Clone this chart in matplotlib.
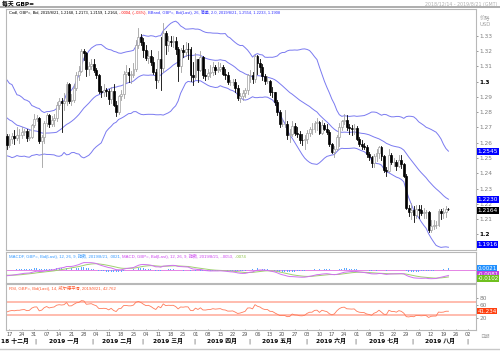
import numpy as np
import pandas as pd
import matplotlib
matplotlib.use("Agg")
import matplotlib.pyplot as plt
from matplotlib.patches import Rectangle
from matplotlib.transforms import blended_transform_factory

plt.rcParams['font.family'] = ['DejaVu Sans', 'Noto Sans CJK SC']

# =========================
# Data : GBP= daily (Bid)
# =========================

# closes before the visible window (2018-10-01 .. 2018-12-13), used for indicator warm-up
warmup_close = [
    1.3030, 1.2970, 1.2995, 1.3035, 1.3120,
    1.3080, 1.3130, 1.3190, 1.3225, 1.3150,
    1.3170, 1.3170, 1.3110, 1.3030, 1.3050,
    1.2975, 1.2970, 1.2910, 1.2810, 1.2820,
    1.2790, 1.2720, 1.2770, 1.3003, 1.2971,
    1.3040, 1.3093, 1.3142, 1.3046, 1.2970,
    1.2844, 1.2993, 1.2972, 1.2772, 1.2830,
    1.2850, 1.2760, 1.2793, 1.2886, 1.2808,
    1.2815, 1.2735, 1.2812, 1.2790, 1.2740,
    1.2720, 1.2715, 1.2737, 1.2780, 1.2575,
    1.2560, 1.2490, 1.2642, 1.2645,
]

# visible window 2018-12-14 .. 2019-08-21 (one line per week)
opens = [
    1.2645,
    1.2585, 1.2625, 1.2645, 1.2630, 1.2650,
    1.2650, 1.2668, 1.2675, 1.2630, 1.2640,
    1.2715, 1.2755, 1.2760, 1.2610, 1.2635,
    1.2730, 1.2780, 1.2725, 1.2750, 1.2765,
    1.2845, 1.2870, 1.2860, 1.2875, 1.2985,
    1.2875, 1.2880, 1.2960, 1.3045, 1.3070,
    1.3200, 1.3190, 1.3080, 1.3100, 1.3115,
    1.3075, 1.3045, 1.2940, 1.2935, 1.2945,
    1.2937, 1.2885, 1.2940, 1.2850, 1.2800,
    1.2905, 1.2920, 1.3050, 1.3060, 1.3045,
    1.3045, 1.3080, 1.3240, 1.3290, 1.3260,
    1.3205, 1.3155, 1.3170, 1.3130, 1.3065,
    1.3010, 1.3145, 1.3090, 1.3320, 1.3240,
    1.3265, 1.3260, 1.3265, 1.3215, 1.3105,
    1.3205, 1.3195, 1.3215, 1.3210, 1.3040,
    1.3030, 1.3145, 1.3075, 1.3160, 1.3040,
    1.3035, 1.3055, 1.3060, 1.3095, 1.3075,
    1.3085, 1.3095, 1.3050, 1.3040, 1.2995,
    1.2995, 1.3000, 1.2955, 1.2895, 1.2905,
    1.2925, 1.2945, 1.3040, 1.3045, 1.3015,
    1.3170, 1.3120, 1.3095, 1.3035, 1.3005,
    1.3005, 1.2935, 1.2930, 1.2865, 1.2800,
    1.2720, 1.2720, 1.2720, 1.2650, 1.2655,
    1.2710, 1.2665, 1.2655, 1.2620, 1.2615,
    1.2625, 1.2665, 1.2690, 1.2690, 1.2730,
    1.2735, 1.2665, 1.2715, 1.2690, 1.2670,
    1.2590, 1.2540, 1.2560, 1.2635, 1.2700,
    1.2740, 1.2750, 1.2700, 1.2695, 1.2690,
    1.2695, 1.2625, 1.2590, 1.2580, 1.2575,
    1.2525, 1.2505, 1.2470, 1.2510, 1.2530,
    1.2575, 1.2510, 1.2420, 1.2415, 1.2520,
    1.2475, 1.2475, 1.2445, 1.2485, 1.2460,
    1.2385, 1.2170, 1.2145, 1.2160, 1.2130,
    1.2165, 1.2160, 1.2140, 1.2145, 1.2145,
    1.2030, 1.2055, 1.2060, 1.2060, 1.2150,
    1.2140, 1.2145, 1.2168,
]
highs = [
    1.2655,
    1.2660, 1.2665, 1.2680, 1.2705, 1.2690,
    1.2700, 1.2690, 1.2690, 1.2680, 1.2720,
    1.2790, 1.2780, 1.2770, 1.2650, 1.2740,
    1.2795, 1.2790, 1.2775, 1.2790, 1.2865,
    1.2895, 1.2895, 1.2925, 1.3000, 1.2990,
    1.2920, 1.2985, 1.3060, 1.3105, 1.3216,
    1.3215, 1.3195, 1.3125, 1.3145, 1.3150,
    1.3090, 1.3050, 1.2970, 1.2985, 1.2960,
    1.2950, 1.2965, 1.2985, 1.2870, 1.2915,
    1.2945, 1.3070, 1.3110, 1.3090, 1.3070,
    1.3120, 1.3270, 1.3350, 1.3310, 1.3285,
    1.3240, 1.3200, 1.3205, 1.3160, 1.3085,
    1.3200, 1.3290, 1.3381, 1.3330, 1.3300,
    1.3300, 1.3300, 1.3290, 1.3225, 1.3220,
    1.3240, 1.3260, 1.3255, 1.3225, 1.3125,
    1.3185, 1.3150, 1.3200, 1.3165, 1.3085,
    1.3080, 1.3110, 1.3125, 1.3110, 1.3130,
    1.3120, 1.3110, 1.3085, 1.3060, 1.3010,
    1.3020, 1.3015, 1.2975, 1.2925, 1.2945,
    1.2960, 1.3050, 1.3075, 1.3065, 1.3176,
    1.3175, 1.3150, 1.3115, 1.3050, 1.3035,
    1.3010, 1.2965, 1.2935, 1.2880, 1.2815,
    1.2755, 1.2815, 1.2740, 1.2690, 1.2745,
    1.2730, 1.2700, 1.2675, 1.2655, 1.2650,
    1.2680, 1.2700, 1.2730, 1.2740, 1.2763,
    1.2745, 1.2750, 1.2730, 1.2720, 1.2685,
    1.2600, 1.2580, 1.2650, 1.2730, 1.2750,
    1.2785, 1.2784, 1.2725, 1.2715, 1.2720,
    1.2710, 1.2640, 1.2620, 1.2600, 1.2585,
    1.2540, 1.2515, 1.2525, 1.2560, 1.2580,
    1.2580, 1.2520, 1.2440, 1.2560, 1.2535,
    1.2500, 1.2485, 1.2520, 1.2520, 1.2470,
    1.2395, 1.2190, 1.2205, 1.2185, 1.2190,
    1.2190, 1.2190, 1.2175, 1.2160, 1.2150,
    1.2095, 1.2095, 1.2085, 1.2165, 1.2165,
    1.2175, 1.2185, 1.2173,
]
lows = [
    1.2560,
    1.2570, 1.2600, 1.2590, 1.2615, 1.2600,
    1.2630, 1.2650, 1.2610, 1.2615, 1.2630,
    1.2700, 1.2740, 1.2600, 1.2438, 1.2600,
    1.2710, 1.2700, 1.2710, 1.2710, 1.2740,
    1.2820, 1.2670, 1.2815, 1.2845, 1.2860,
    1.2850, 1.2865, 1.2945, 1.3010, 1.3060,
    1.3140, 1.3035, 1.3040, 1.3080, 1.3060,
    1.3025, 1.2925, 1.2900, 1.2905, 1.2905,
    1.2855, 1.2860, 1.2840, 1.2773, 1.2790,
    1.2880, 1.2895, 1.3000, 1.3000, 1.2990,
    1.3030, 1.3070, 1.3220, 1.3240, 1.3160,
    1.3140, 1.3120, 1.3110, 1.3050, 1.2960,
    1.2995, 1.2945, 1.3060, 1.3180, 1.3200,
    1.3235, 1.3225, 1.3180, 1.3005, 1.3060,
    1.3160, 1.3170, 1.3150, 1.3005, 1.2975,
    1.3020, 1.3000, 1.3070, 1.3025, 1.3010,
    1.3015, 1.3030, 1.3045, 1.3050, 1.3060,
    1.3070, 1.3040, 1.3020, 1.2985, 1.2975,
    1.2975, 1.2935, 1.2880, 1.2865, 1.2880,
    1.2900, 1.2920, 1.3000, 1.2990, 1.3000,
    1.3050, 1.3060, 1.3010, 1.2985, 1.2990,
    1.2915, 1.2900, 1.2850, 1.2780, 1.2705,
    1.2710, 1.2700, 1.2625, 1.2605, 1.2645,
    1.2650, 1.2640, 1.2600, 1.2585, 1.2560,
    1.2600, 1.2645, 1.2660, 1.2670, 1.2680,
    1.2660, 1.2660, 1.2680, 1.2655, 1.2580,
    1.2530, 1.2505, 1.2550, 1.2580, 1.2680,
    1.2720, 1.2680, 1.2660, 1.2650, 1.2660,
    1.2615, 1.2580, 1.2560, 1.2560, 1.2505,
    1.2490, 1.2440, 1.2440, 1.2480, 1.2500,
    1.2490, 1.2410, 1.2380, 1.2410, 1.2460,
    1.2450, 1.2420, 1.2440, 1.2435, 1.2375,
    1.2165, 1.2120, 1.2100, 1.2080, 1.2110,
    1.2110, 1.2125, 1.2110, 1.2110, 1.2015,
    1.2015, 1.2035, 1.2040, 1.2055, 1.2100,
    1.2110, 1.2115, 1.2159,
]
closes = [
    1.2585,
    1.2625, 1.2645, 1.2630, 1.2650, 1.2650,
    1.2668, 1.2675, 1.2630, 1.2640, 1.2715,
    1.2755, 1.2760, 1.2610, 1.2635, 1.2730,
    1.2780, 1.2725, 1.2750, 1.2765, 1.2845,
    1.2870, 1.2860, 1.2875, 1.2985, 1.2875,
    1.2880, 1.2960, 1.3045, 1.3070, 1.3200,
    1.3190, 1.3080, 1.3100, 1.3115, 1.3075,
    1.3045, 1.2940, 1.2935, 1.2945, 1.2937,
    1.2885, 1.2940, 1.2850, 1.2800, 1.2905,
    1.2920, 1.3050, 1.3060, 1.3045, 1.3045,
    1.3080, 1.3240, 1.3290, 1.3260, 1.3205,
    1.3155, 1.3170, 1.3130, 1.3065, 1.3010,
    1.3145, 1.3090, 1.3320, 1.3240, 1.3265,
    1.3260, 1.3265, 1.3215, 1.3105, 1.3205,
    1.3195, 1.3215, 1.3210, 1.3040, 1.3030,
    1.3145, 1.3075, 1.3160, 1.3040, 1.3035,
    1.3055, 1.3060, 1.3095, 1.3075, 1.3085,
    1.3095, 1.3050, 1.3040, 1.2995, 1.2995,
    1.3000, 1.2955, 1.2895, 1.2905, 1.2925,
    1.2945, 1.3040, 1.3045, 1.3015, 1.3170,
    1.3120, 1.3095, 1.3035, 1.3005, 1.3005,
    1.2935, 1.2930, 1.2865, 1.2800, 1.2720,
    1.2720, 1.2720, 1.2650, 1.2655, 1.2710,
    1.2665, 1.2655, 1.2620, 1.2615, 1.2625,
    1.2665, 1.2690, 1.2690, 1.2730, 1.2735,
    1.2665, 1.2715, 1.2690, 1.2670, 1.2590,
    1.2540, 1.2560, 1.2635, 1.2700, 1.2740,
    1.2750, 1.2700, 1.2695, 1.2690, 1.2695,
    1.2625, 1.2590, 1.2580, 1.2575, 1.2525,
    1.2505, 1.2470, 1.2510, 1.2530, 1.2575,
    1.2510, 1.2420, 1.2415, 1.2520, 1.2475,
    1.2475, 1.2445, 1.2485, 1.2460, 1.2385,
    1.2170, 1.2145, 1.2160, 1.2130, 1.2165,
    1.2160, 1.2140, 1.2145, 1.2145, 1.2030,
    1.2055, 1.2060, 1.2060, 1.2150, 1.2140,
    1.2145, 1.2165, 1.2164,
]

price_ticks = [1.20, 1.21, 1.22, 1.23, 1.24, 1.25, 1.26, 1.27, 1.28, 1.29, 1.30, 1.31, 1.32, 1.33]
price_tick_labels = ["1.2", "1.21", "1.22", "1.23", "1.24", "1.25", "1.26", "1.27", "1.28",
                     "1.29", "1.3", "1.31", "1.32", "1.33"]
rsi_ticks = [20, 60, 80]
month_names = {12: "十二月", 1: "一月", 2: "二月", 3: "三月", 4: "四月", 5: "五月",
               6: "六月", 7: "七月", 8: "八月"}

# =========================
# Indicators (BBand 26/2.0, MACD 12/26/9, RSI 14 Wilder)
# =========================
n_vis = len(closes)
s = pd.Series(warmup_close + closes)
mid = s.rolling(26).mean()
sd = s.rolling(26).std(ddof=0)
bb_up = (mid + 2 * sd).values[-n_vis:]
bb_mid = mid.values[-n_vis:]
bb_lo = (mid - 2 * sd).values[-n_vis:]

ema12 = s.ewm(span=12, adjust=False).mean()
ema26 = s.ewm(span=26, adjust=False).mean()
macd = ema12 - ema26
signal = macd.ewm(span=9, adjust=False).mean()
hist = (macd - signal).values[-n_vis:]
macd = macd.values[-n_vis:]
signal = signal.values[-n_vis:]

delta = s.diff()
gain = delta.clip(lower=0).ewm(alpha=1 / 14, adjust=False).mean()
loss = (-delta.clip(upper=0)).ewm(alpha=1 / 14, adjust=False).mean()
rsi = (100 - 100 / (1 + gain / loss)).values[-n_vis:]

# axis calendar (weekdays, runs past the data to early September)
axis_days = pd.bdate_range("2018-12-14", "2019-09-06")
x = np.arange(n_vis)

# =========================
# Figure layout (pixel boxes)
# =========================
W, H = 500, 352
fig = plt.figure(figsize=(W / 100, H / 100), dpi=100)
fig.patch.set_facecolor("white")


def box(x0, y0, x1, y1):
    return [x0 / W, 1 - y1 / H, (x1 - x0) / W, (y1 - y0) / H]


X_LEFT, X_RIGHT = 6, 476
PX_DAY = 2.48
xlim = ((X_LEFT - 7) / PX_DAY, (X_RIGHT - 7) / PX_DAY)

frame_col = "#b8b8b8"
ax = fig.add_axes(box(X_LEFT, 9, X_RIGHT, 250))
ax_m = fig.add_axes(box(X_LEFT, 252, X_RIGHT, 283))
ax_r = fig.add_axes(box(X_LEFT, 284, X_RIGHT, 330))

for a in (ax, ax_m, ax_r):
    a.set_xlim(*xlim)
    a.set_xticks([])
    for sp in a.spines.values():
        sp.set_color(frame_col)
        sp.set_linewidth(0.8)
    a.yaxis.tick_right()
    a.tick_params(axis="y", length=1.5, width=0.5, color="#707070", pad=1,
                  labelsize=4.2, labelcolor="#808080")

# ---- candles
for i in range(n_vis):
    o, h, l, c = opens[i], highs[i], lows[i], closes[i]
    up = c >= o
    col = "#a0a0a0" if up else "black"
    ax.plot([i, i], [l, h], color=col, lw=0.6, zorder=2)
    bottom, top = min(o, c), max(o, c)
    ax.add_patch(Rectangle((i - 0.38, bottom), 0.76, max(top - bottom, 0.0002),
                           facecolor="white" if up else "black", edgecolor=col,
                           lw=0.5, zorder=3))

bb_col = "#7a7af0"
for band in (bb_up, bb_mid, bb_lo):
    ax.plot(x, band, color=bb_col, lw=0.7, zorder=1)

ax.set_ylim(1.1898, 1.3475)
ax.set_yticks(price_ticks)
ax.set_yticklabels(price_tick_labels)
for lab in ax.get_yticklabels():
    if lab.get_text() in ("1.3", "1.2"):
        lab.set_color("black")
        lab.set_fontweight("bold")

# right-side value boxes
tr = blended_transform_factory(ax.transAxes, ax.transData)
for val, y, fc in [(bb_up[-1], bb_up[-1], "#0000ff"), (bb_mid[-1], bb_mid[-1], "#0000ff"),
                   (closes[-1], closes[-1] - 0.0006, "black"), (bb_lo[-1], 1.1935, "#0000ff")]:
    ax.text(1.003, y, f"{val:.4f}", transform=tr, fontsize=4.2, color="white",
            va="center", ha="left", clip_on=False,
            bbox=dict(boxstyle="square,pad=0.15", fc=fc, ec="none"))
ax.text(1.008, 0.95, "价格\nUSD", transform=ax.transAxes, fontsize=3.8, color="#a0a0a0",
        va="center", ha="left", linespacing=1.1)

# ---- MACD panel
ax_m.axhline(0, color="#e070e0", lw=0.6, zorder=1)
ax_m.bar(x, hist, width=0.35, color="#5aa8ff", zorder=2)
ax_m.plot(x, signal, color="#a0d070", lw=0.7, zorder=3)
ax_m.plot(x, macd, color="#d070f0", lw=0.7, zorder=4)
ax_m.set_ylim(-0.019, 0.026)
ax_m.set_yticks([])
trm = blended_transform_factory(ax_m.transAxes, ax_m.transData)
for val, y, fc in [(hist[-1], 0.0025, "#2090ff"), (macd[-1], -0.006, "#c040e0"),
                   (signal[-1], -0.0125, "#70c020")]:
    ax_m.text(1.003, y, f"{val:.4f}", transform=trm, fontsize=4.0, color="white",
              va="center", ha="left", clip_on=False,
              bbox=dict(boxstyle="square,pad=0.12", fc=fc, ec="none"))

# ---- RSI panel
for lvl in (70, 30):
    ax_r.axhline(lvl, color="#ffbcae", lw=1.4, zorder=1)
ax_r.plot(x, rsi, color="#ff7a5a", lw=0.6, zorder=2)
ax_r.set_ylim(-15, 123)
ax_r.set_yticks(rsi_ticks)
ax_r.set_yticklabels([str(t) for t in rsi_ticks])
trr = blended_transform_factory(ax_r.transAxes, ax_r.transData)
ax_r.text(1.003, rsi[-1], f"{rsi[-1]:.3f}", transform=trr, fontsize=4.0, color="white",
          va="center", ha="left", clip_on=False,
          bbox=dict(boxstyle="square,pad=0.12", fc="#ff4010", ec="none"))

# ---- legends (coloured pieces)
renderer = fig.canvas.get_renderer()


def legend_line(a, pieces, y_px, size=2.9):
    xpix = a.get_window_extent().x0 + 3
    ypix = H - y_px
    for txt, col in pieces:
        t = fig.text(xpix / W, ypix / H, txt, fontsize=size, color=col, va="center", ha="left",
                     family=["Liberation Sans", "Noto Sans CJK SC"])
        xpix += t.get_window_extent(renderer).width


legend_line(ax, [("Cndl, GBP=, Bid, 2019/8/21, 1.2168, 1.2173, 1.2159, 1.2164, ", "black"),
                 ("-.0004, (-.03%), ", "red"),
                 ("BBand, GBP=, Bid(Last), 26, 简单, 2.0, 2019/8/21, 1.2554, 1.2233, 1.1908", "#3030ff")],
            13)
legend_line(ax_m, [("MACDF, GBP=, Bid(Last), 12, 26, 9, 指数, 2019/8/21, .0021, ", "#3399ff"),
                   ("MACD, GBP=, Bid(Last), 12, 26, 9, 指数, 2019/8/21, -.0053, ", "#cc44ee"),
                   ("-.0074", "#88c040")], 256.5, 3.1)
legend_line(ax_r, [("RSI, GBP=, Bid(Last), 14, 威尔德平滑, 2019/8/21, 42.762", "#ff5a30")], 288, 3.1)

# ---- title bar
fig.text(2 / W, 1 - 3.5 / H, "每天 GBP=", fontsize=4.2, fontweight="bold", va="center", ha="left")
fig.text(497 / W, 1 - 4.5 / H, "2018/12/14 - 2019/8/21 (GMT)", fontsize=3.4, color="#b0b0b0",
         va="center", ha="right")
fig.add_artist(plt.Line2D([0, 1], [1 - 7 / H, 1 - 7 / H], color="#a0a0a0", lw=1.2))

# ---- time axis labels
trx = blended_transform_factory(ax_r.transData, fig.transFigure)
for j, d in enumerate(axis_days):
    if d.weekday() == 0:
        ax_r.plot([j, j], [-15, -12], color="#909090", lw=0.4, clip_on=False)
        ax_r.text(j, 1 - 334 / H, f"{d.day:02d}", transform=trx, fontsize=3.6,
                  color="#505050", ha="center", va="center")
months = pd.Series(np.arange(len(axis_days)), index=axis_days)
for (yr, mo), grp in months.groupby([axis_days.year, axis_days.month]):
    if mo in month_names:
        start, end = grp.iloc[0], grp.iloc[-1]
        if start == 0:
            # first month only shows its tail at the left edge
            fig.text(1 / W, 1 - 341 / H, f"{yr % 100} {month_names[mo]}", fontsize=4.2,
                     fontweight="bold", ha="left", va="center")
        else:
            ax_r.text((start + end) / 2, 1 - 341 / H, f"{yr} {month_names[mo]}", transform=trx,
                      fontsize=4.2, fontweight="bold", ha="center", va="center")
        ax_r.text(end + 0.5, 1 - 341 / H, "|", transform=trx, fontsize=4.2,
                  color="#404040", ha="center", va="center")
fig.text(480 / W, 1 - 336 / H, "日期", fontsize=3.4, color="#a8a8a8", va="center", ha="left")

# outer frame
fig.add_artist(plt.Line2D([0, 1], [1 - 349 / H, 1 - 349 / H], color="#c8c8c8", lw=1.0))

fig.savefig("out.png", dpi=100, facecolor="white")
